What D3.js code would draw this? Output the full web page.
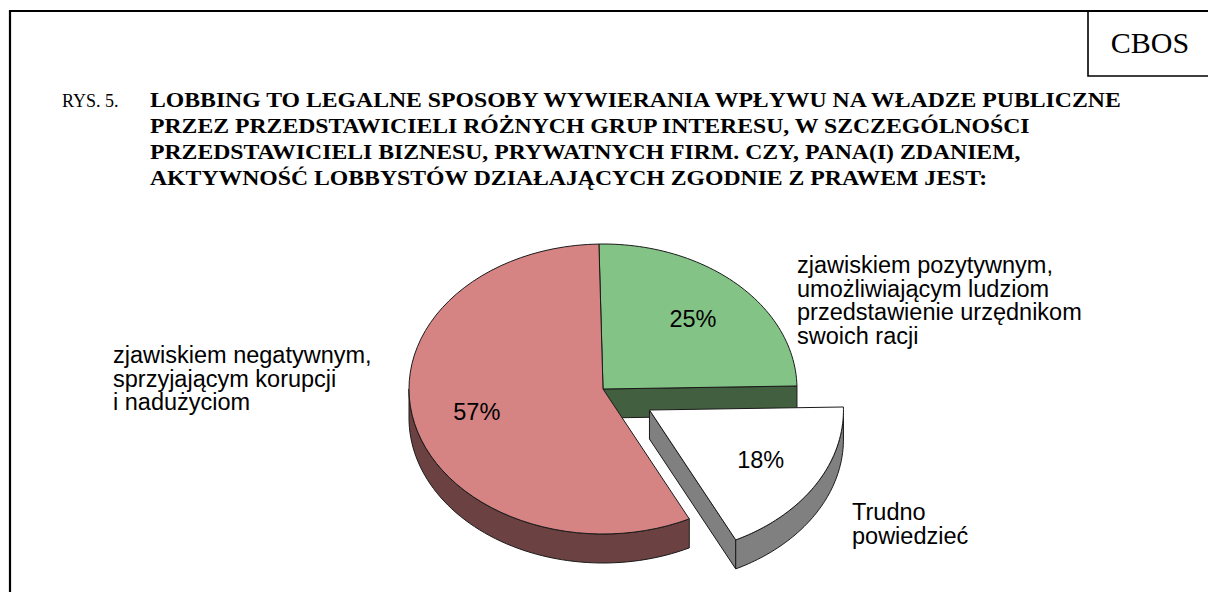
<!DOCTYPE html>
<html>
<head>
<meta charset="utf-8">
<script src="https://cdn.jsdelivr.net/npm/d3@7"></script>
<style>
  body { margin: 0; background: #fff; }
  svg { display: block; }
</style>
</head>
<body>
<svg></svg>
<script>
const answers = ['pozytywne', 'trudno powiedzieć', 'negatywne']
const values = [25, 18, 57]
const valueLabels = ['25%', '18%', '57%']
const answerLines = [
  ['zjawiskiem pozytywnym,', 'umożliwiającym ludziom', 'przedstawienie urzędnikom', 'swoich racji'],
  ['Trudno', 'powiedzieć'],
  ['zjawiskiem negatywnym,', 'sprzyjającym korupcji', 'i nadużyciom']
]
const titleLines = [
  'LOBBING TO LEGALNE SPOSOBY WYWIERANIA WPŁYWU NA WŁADZE PUBLICZNE',
  'PRZEZ PRZEDSTAWICIELI RÓŻNYCH GRUP INTERESU, W SZCZEGÓLNOŚCI',
  'PRZEDSTAWICIELI BIZNESU, PRYWATNYCH FIRM. CZY, PANA(I) ZDANIEM,',
  'AKTYWNOŚĆ LOBBYSTÓW DZIAŁAJĄCYCH ZGODNIE Z PRAWEM JEST:'
]

const width = 1208
const height = 592

const svg = d3.select('svg')
  .attr('width', width)
  .attr('height', height)

// ramka i logo
svg.append('path')
  .attr('d', `M10,${height} V11 H${width}`)
  .attr('fill', 'none')
  .attr('stroke', '#000')
  .attr('stroke-width', 2.2)
svg.append('path')
  .attr('d', `M1088,11 V76 H${width}`)
  .attr('fill', 'none')
  .attr('stroke', '#000')
  .attr('stroke-width', 1.6)
svg.append('text')
  .attr('x', 1150)
  .attr('y', 53)
  .attr('text-anchor', 'middle')
  .style('font-family', '"Liberation Serif", "Times New Roman", serif')
  .style('font-size', '30px')
  .text('CBOS')

// tytuł
svg.append('text')
  .attr('x', 62)
  .attr('y', 107)
  .style('font-family', '"Liberation Serif", "Times New Roman", serif')
  .style('font-size', '18px')
  .text('RYS. 5.')

svg.append('g')
  .attr('transform', 'translate(150, 0) scale(1.13, 1)')
  .selectAll('text')
  .data(titleLines)
  .join('text')
    .attr('x', 0)
    .attr('y', (_, i) => 107 + i * 26)
    .style('font-family', '"Liberation Serif", "Times New Roman", serif')
    .style('font-size', '21px')
    .style('font-weight', 'bold')
    .text(d => d)

// wykres kołowy 3D
const cx = 603
const cy = 389
const rx = 194
const ry = 145
const depth = 29
const explode = [0, 0.28, 0]
const topColors = ['#84c386', '#ffffff', '#d68483']
const sideColors = ['#42603f', '#808080', '#6b4141']

const pie = d3.pie()
  .sort(null)
  .startAngle(-0.021)
  .endAngle(2 * Math.PI - 0.021)

const arcs = pie(values)

const offset = (d, i) => {
  const mid = (d.startAngle + d.endAngle) / 2
  return [explode[i] * rx * Math.sin(mid), -explode[i] * ry * Math.cos(mid)]
}
const rim = (a, o, z = 0, k = 1) => [cx + o[0] + k * rx * Math.sin(a), cy + o[1] - k * ry * Math.cos(a) + z]
const sample = (a0, a1) => d3.range(0, 61).map(j => a0 + (a1 - a0) * j / 60)
const line = d3.line()

const pieG = svg.append('g')
  .attr('stroke', '#1a1a1a')
  .attr('stroke-width', 1)
  .attr('stroke-linejoin', 'round')

arcs.forEach((d, i) => {
  const o = offset(d, i)
  const c = [cx + o[0], cy + o[1]]
  const a = d.startAngle
  const b = d.endAngle

  // ściany boczne przy promieniach
  const walls = []
  if (Math.cos(a - Math.PI / 2) < 0) walls.push(a)
  if (Math.cos(b + Math.PI / 2) < 0) walls.push(b)
  walls.forEach(t => {
    const p = rim(t, o)
    pieG.append('path')
      .attr('d', line([c, p, [p[0], p[1] + depth], [c[0], c[1] + depth]]) + 'Z')
      .attr('fill', sideColors[i])
  })

  // ściana zewnętrzna (widoczna tylko z przodu)
  const s0 = Math.max(a, Math.PI / 2)
  const s1 = Math.min(b, 3 * Math.PI / 2)
  if (s1 > s0) {
    const front = sample(s0, s1).map(t => rim(t, o))
    const back = sample(s0, s1).reverse().map(t => rim(t, o, depth))
    pieG.append('path')
      .attr('d', line(front.concat(back)) + 'Z')
      .attr('fill', sideColors[i])
  }

  // wierzch
  pieG.append('path')
    .attr('d', line([c].concat(sample(a, b).map(t => rim(t, o)))) + 'Z')
    .attr('fill', topColors[i])
})

// etykiety procentowe
svg.append('g')
  .selectAll('text')
  .data(arcs)
  .join('text')
    .attr('x', (d, i) => rim((d.startAngle + d.endAngle) / 2, offset(d, i), 0, 0.67)[0])
    .attr('y', (d, i) => rim((d.startAngle + d.endAngle) / 2, offset(d, i), 0, 0.67)[1])
    .attr('text-anchor', 'middle')
    .attr('dominant-baseline', 'central')
    .style('font-family', '"Liberation Sans", Arial, sans-serif')
    .style('font-size', '23.5px')
    .text((_, i) => valueLabels[i])

// opisy kategorii
const labelPos = [[797, 273], [852, 520], [113, 363]]
const labels = svg.append('g')
  .selectAll('text')
  .data(answerLines)
  .join('text')
    .attr('x', (_, i) => labelPos[i][0])
    .attr('y', (_, i) => labelPos[i][1])
    .style('font-family', '"Liberation Sans", Arial, sans-serif')
    .style('font-size', '23.5px')

labels.selectAll('tspan')
  .data((d, i) => d.map(t => ({ t, x: labelPos[i][0] })))
  .join('tspan')
    .attr('x', d => d.x)
    .attr('dy', (_, j) => j === 0 ? 0 : 23.5)
    .text(d => d.t)
</script>
</body>
</html>
